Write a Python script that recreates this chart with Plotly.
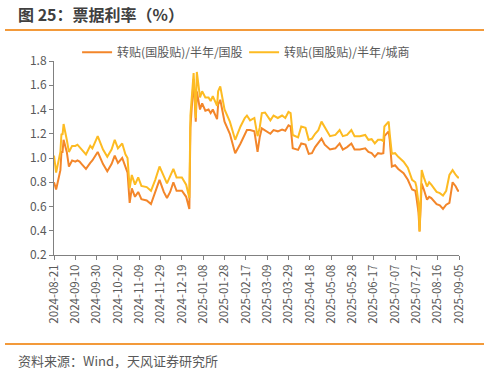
import datetime as dt
import plotly.graph_objects as go

START = dt.date(2024, 8, 21)

# day offsets from 2024-08-21
days = [0, 2, 6, 7, 8, 9, 12, 14, 17, 20, 22, 24, 26, 30, 34, 36, 41, 46, 50, 54,
        57, 60, 64, 67, 69, 71, 73, 76, 79, 82, 87, 91, 95, 99, 103, 106, 109, 112,
        115, 120, 124, 127, 128, 131, 133, 134, 137, 139, 142, 145, 147, 149, 153,
        154, 156, 158, 160, 165, 170, 175, 179, 181, 184, 188, 191, 193, 195, 198,
        203, 206, 210, 214, 217, 220, 222, 224, 229, 232, 236, 239, 242, 245, 248,
        251, 254, 259, 264, 268, 271, 275, 279, 282, 287, 292, 295, 298, 301, 304,
        307, 309, 310, 314, 315, 317, 320, 323, 328, 332, 336, 339, 340, 342, 343,
        345, 347, 350, 352, 354, 359, 362, 365, 368, 371, 374, 377, 379, 380]

guogu = [0.80, 0.74, 0.90, 1.05, 1.05, 1.15, 1.05, 0.93, 0.98, 0.97, 0.98, 0.97, 0.95, 0.91,
         0.96, 0.98, 1.05, 0.95, 0.89, 0.95, 1.02, 0.96, 1.00, 0.92, 0.88, 0.63, 0.75, 0.68,
         0.72, 0.66, 0.65, 0.62, 0.72, 0.82, 0.72, 0.67, 0.72, 0.80, 0.73, 0.73, 0.68, 0.58,
         1.25, 1.65, 1.30, 1.55, 1.40, 1.45, 1.39, 1.40, 1.37, 1.40, 1.32, 1.44, 1.48, 1.38,
         1.30, 1.20, 1.04, 1.12, 1.20, 1.23, 1.23, 1.22, 1.05, 1.17, 1.245, 1.23, 1.20, 1.23,
         1.22, 1.235, 1.225, 1.27, 1.26, 1.08, 1.067, 1.12, 1.11, 1.034, 1.04, 1.09, 1.13,
         1.16, 1.11, 1.07, 1.08, 1.12, 1.07, 1.09, 1.12, 1.07, 1.07, 1.08, 1.05, 1.04, 1.01,
         1.04, 1.035, 1.04, 1.18, 1.22, 1.15, 0.93, 0.94, 0.91, 0.875, 0.82, 0.74, 0.73, 0.68,
         0.55, 0.395, 0.79, 0.74, 0.656, 0.68, 0.67, 0.62, 0.61, 0.58, 0.615, 0.63, 0.80,
         0.765, 0.73, 0.73]

chengshang = [1.02, 0.88, 1.05, 1.20, 1.19, 1.28, 1.15, 1.05, 1.10, 1.10, 1.11, 1.09, 1.07,
              1.03, 1.10, 1.08, 1.18, 1.07, 1.01, 1.07, 1.15, 1.08, 1.12, 1.03, 1.00, 0.75,
              0.86, 0.78, 0.84, 0.77, 0.76, 0.73, 0.82, 0.93, 0.85, 0.79, 0.85, 0.91, 0.84,
              0.84, 0.78, 0.67, 1.35, 1.70, 1.33, 1.71, 1.50, 1.55, 1.50, 1.50, 1.47, 1.51,
              1.43, 1.55, 1.59, 1.50, 1.40, 1.30, 1.15, 1.26, 1.33, 1.35, 1.31, 1.33, 1.18,
              1.25, 1.37, 1.375, 1.31, 1.35, 1.33, 1.35, 1.33, 1.38, 1.37, 1.19, 1.17, 1.26,
              1.25, 1.15, 1.16, 1.20, 1.23, 1.30, 1.25, 1.18, 1.19, 1.23, 1.18, 1.19, 1.23,
              1.18, 1.18, 1.19, 1.15, 1.155, 1.12, 1.15, 1.15, 1.14, 1.26, 1.30, 1.20, 1.035,
              1.04, 1.01, 0.97, 0.92, 0.82, 0.80, 0.765, 0.63, 0.395, 0.90, 0.84, 0.765, 0.80,
              0.78, 0.72, 0.71, 0.69, 0.73, 0.86, 0.90, 0.86, 0.84, 0.84]

series_names = ["转贴(国股贴)/半年/国股", "转贴(国股贴)/半年/城商"]
tick_step_days = 20
n_ticks = 20

dates = [START + dt.timedelta(days=d) for d in days]
tickvals = [START + dt.timedelta(days=tick_step_days * i) for i in range(n_ticks)]
ticktext = [t.strftime("%Y-%m-%d") for t in tickvals]

FONT = "Noto Sans CJK SC, Microsoft YaHei, sans-serif"
ORANGE = "#F3862A"
YELLOW = "#FDBB22"

fig = go.Figure()
fig.add_trace(go.Scatter(x=dates, y=guogu, mode="lines", name=series_names[0],
                         line=dict(color=ORANGE, width=2)))
fig.add_trace(go.Scatter(x=dates, y=chengshang, mode="lines", name=series_names[1],
                         line=dict(color=YELLOW, width=2)))

fig.update_layout(
    width=490, height=373,
    margin=dict(l=54, r=31, t=61, b=118, autoexpand=False),
    paper_bgcolor="white", plot_bgcolor="white",
    font=dict(family=FONT, size=12, color="#595959"),
    showlegend=True,
    legend=dict(orientation="h", x=0.057, xanchor="left", y=1.045, yanchor="middle",
                font=dict(size=12, color="#595959"), entrywidth=122,
                bgcolor="rgba(0,0,0,0)", itemwidth=30),
    xaxis=dict(type="date", range=[tickvals[0], tickvals[-1]], tickvals=tickvals,
               ticktext=ticktext, tickangle=-90, showgrid=False, showline=True,
               linecolor="#808080", linewidth=1, ticks="outside", ticklen=4,
               tickcolor="#808080", tickfont=dict(size=11.5, color="#595959"),
               automargin=False),
    yaxis=dict(range=[0.2, 1.8], dtick=0.2, tick0=0.2, tickformat=".1f", showgrid=False,
               showline=True, linecolor="#808080", linewidth=1, ticks="outside",
               ticklen=4, tickcolor="#808080", tickfont=dict(size=12, color="#595959"),
               zeroline=False, automargin=False),
    shapes=[
        dict(type="line", xref="paper", yref="paper",
             x0=-49 / 405, x1=430 / 405, y0=1 + 31 / 194, y1=1 + 31 / 194,
             line=dict(color="#F39A3A", width=2)),
        dict(type="line", xref="paper", yref="paper",
             x0=-49 / 405, x1=430 / 405, y0=-89 / 194, y1=-89 / 194,
             line=dict(color="#F39A3A", width=2)),
    ],
    annotations=[
        dict(text="<b>图 25：票据利率（%）</b>", xref="paper", yref="paper",
             x=-38 / 405, y=1 + 47 / 194, xanchor="left", yanchor="middle",
             showarrow=False, font=dict(size=16, color="#404040", family=FONT)),
        dict(text="资料来源：Wind，天风证券研究所", xref="paper", yref="paper",
             x=-38 / 405, y=-106 / 194, xanchor="left", yanchor="middle",
             showarrow=False, font=dict(size=13, color="#595959", family=FONT)),
    ],
)

fig.write_html("out.html", config={"displayModeBar": False},
               post_script="document.body.style.margin='0';document.body.style.overflow='hidden';")
